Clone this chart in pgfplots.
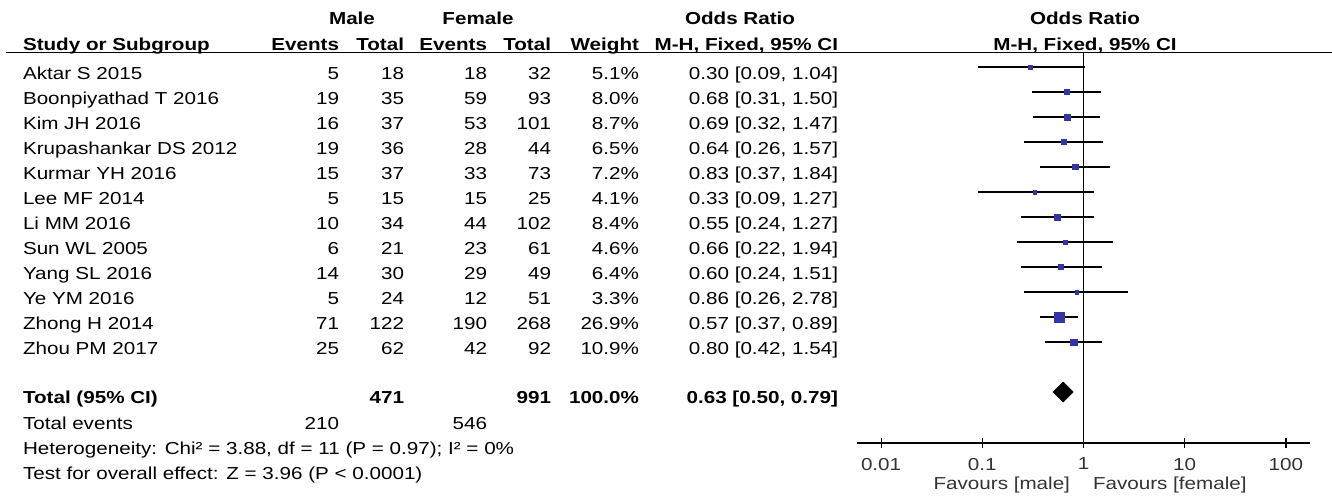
\documentclass[border=0pt]{standalone}
\usepackage{pgfplots}
\pgfplotsset{compat=1.18}
\usepackage{fontspec}
\setmainfont{Liberation Sans}[FakeStretch=1.19]
\definecolor{blu}{HTML}{3333AA}
\newcommand\rw[8]{%
  \node[anchor=base west] at (23,#1) {#2};
  \node[anchor=base east] at (339,#1) {#3};
  \node[anchor=base east] at (404,#1) {#4};
  \node[anchor=base east] at (487,#1) {#5};
  \node[anchor=base east] at (551,#1) {#6};
  \node[anchor=base east] at (639,#1) {#7};
  \node[anchor=base east] at (838,#1) {#8};}
\begin{document}
\fontsize{13}{15}\selectfont
\begin{tikzpicture}
\begin{scope}[x=0.75pt,y=-0.75pt,every node/.style={inner sep=0pt,outer sep=0pt}]
\useasboundingbox (0,0) rectangle (1332,497);
\begin{scope}[font=\bfseries]
\node at (352,18) {Male};
\node at (478,18) {Female};
\node at (740,18) {Odds Ratio};
\node at (1085,18) {Odds Ratio};
\node[anchor=base west] at (23,50) {Study or Subgroup};
\node[anchor=base east] at (339,50) {Events};
\node[anchor=base east] at (404,50) {Total};
\node[anchor=base east] at (487,50) {Events};
\node[anchor=base east] at (551,50) {Total};
\node[anchor=base east] at (639,50) {Weight};
\node[anchor=base east] at (838,50) {M-H, Fixed, 95\% CI};
\node[anchor=base] at (1085,50) {M-H, Fixed, 95\% CI};
\end{scope}
\draw[line width=1.1pt] (6,52.5) -- (1332,52.5);
\rw{79}{Aktar S 2015}{5}{18}{18}{32}{5.1\%}{0.30 [0.09, 1.04]}
\rw{104}{Boonpiyathad T 2016}{19}{35}{59}{93}{8.0\%}{0.68 [0.31, 1.50]}
\rw{129}{Kim JH 2016}{16}{37}{53}{101}{8.7\%}{0.69 [0.32, 1.47]}
\rw{154}{Krupashankar DS 2012}{19}{36}{28}{44}{6.5\%}{0.64 [0.26, 1.57]}
\rw{179}{Kurmar YH 2016}{15}{37}{33}{73}{7.2\%}{0.83 [0.37, 1.84]}
\rw{204}{Lee MF 2014}{5}{15}{15}{25}{4.1\%}{0.33 [0.09, 1.27]}
\rw{229}{Li MM 2016}{10}{34}{44}{102}{8.4\%}{0.55 [0.24, 1.27]}
\rw{254}{Sun WL 2005}{6}{21}{23}{61}{4.6\%}{0.66 [0.22, 1.94]}
\rw{279}{Yang SL 2016}{14}{30}{29}{49}{6.4\%}{0.60 [0.24, 1.51]}
\rw{304}{Ye YM 2016}{5}{24}{12}{51}{3.3\%}{0.86 [0.26, 2.78]}
\rw{329}{Zhong H 2014}{71}{122}{190}{268}{26.9\%}{0.57 [0.37, 0.89]}
\rw{354}{Zhou PM 2017}{25}{62}{42}{92}{10.9\%}{0.80 [0.42, 1.54]}
\begin{scope}[font=\bfseries]
\rw{403}{Total (95\% CI)}{}{471}{}{991}{100.0\%}{0.63 [0.50, 0.79]}
\end{scope}
\node[anchor=base west] at (23,429) {Total events};
\node[anchor=base east] at (339,429) {210};
\node[anchor=base east] at (487,429) {546};
\node[anchor=base west] at (23,454) {Heterogeneity: Chi² = 3.88, df = 11 (P = 0.97); I² = 0\%};
\node[anchor=base west] at (23,479) {Test for overall effect: Z = 3.96 (P < 0.0001)};
\node[anchor=base east,text=black!80] at (1070,489) {Favours [male]};
\node[anchor=base west,text=black!80] at (1093,489) {Favours [female]};
\end{scope}
\begin{axis}[at={(642.75pt,-332.25pt)},anchor=south west,scale only axis,
  width=339.75pt,height=292.5pt,xmode=log,xmin=0.00578,xmax=173,
  ymin=-443,ymax=-53,axis x line*=bottom,axis y line=none,
  axis line style={line width=0.9pt,-},
  xtick={0.01,0.1,1,10,100},xticklabels={0.01,0.1,1,10,100},
  minor xtick={},xminorticks=false,
  xtick align=center,major tick length=7.5pt,
  every tick/.style={line width=0.9pt,black},
  xticklabel style={font=\fontsize{13}{15}\selectfont,text=black!80,yshift=-3pt},
  clip=false]
\addplot[black,line width=0.9pt] coordinates {(1,-443) (1,-53)};
\addplot[black,line width=0.8pt] coordinates {(0.09,-67) (1.04,-67)};
\addplot[black,line width=0.8pt] coordinates {(0.31,-92) (1.50,-92)};
\addplot[black,line width=0.8pt] coordinates {(0.32,-117) (1.47,-117)};
\addplot[black,line width=0.8pt] coordinates {(0.26,-142) (1.57,-142)};
\addplot[black,line width=0.8pt] coordinates {(0.37,-167) (1.84,-167)};
\addplot[black,line width=0.8pt] coordinates {(0.09,-192) (1.27,-192)};
\addplot[black,line width=0.8pt] coordinates {(0.24,-217) (1.27,-217)};
\addplot[black,line width=0.8pt] coordinates {(0.22,-242) (1.94,-242)};
\addplot[black,line width=0.8pt] coordinates {(0.24,-267) (1.51,-267)};
\addplot[black,line width=0.8pt] coordinates {(0.26,-292) (2.78,-292)};
\addplot[black,line width=0.8pt] coordinates {(0.37,-317) (0.89,-317)};
\addplot[black,line width=0.8pt] coordinates {(0.42,-342) (1.54,-342)};
\pgfplotsset{sq/.style={only marks,mark=square*,color=blu,mark size=#1}}
\addplot[sq=1.63pt] coordinates {(0.30,-67)};
\addplot[sq=2.05pt] coordinates {(0.68,-92)};
\addplot[sq=2.14pt] coordinates {(0.69,-117)};
\addplot[sq=1.85pt] coordinates {(0.64,-142)};
\addplot[sq=1.94pt] coordinates {(0.83,-167)};
\addplot[sq=1.47pt] coordinates {(0.33,-192)};
\addplot[sq=2.10pt] coordinates {(0.55,-217)};
\addplot[sq=1.55pt] coordinates {(0.66,-242)};
\addplot[sq=1.83pt] coordinates {(0.60,-267)};
\addplot[sq=1.32pt] coordinates {(0.86,-292)};
\addplot[sq=3.75pt] coordinates {(0.57,-317)};
\addplot[sq=2.39pt] coordinates {(0.80,-342)};
\addplot[fill=black,draw=black] coordinates {(0.50,-392) (0.63,-382) (0.79,-392) (0.63,-402)} -- cycle;
\end{axis}
\end{tikzpicture}
\end{document}
